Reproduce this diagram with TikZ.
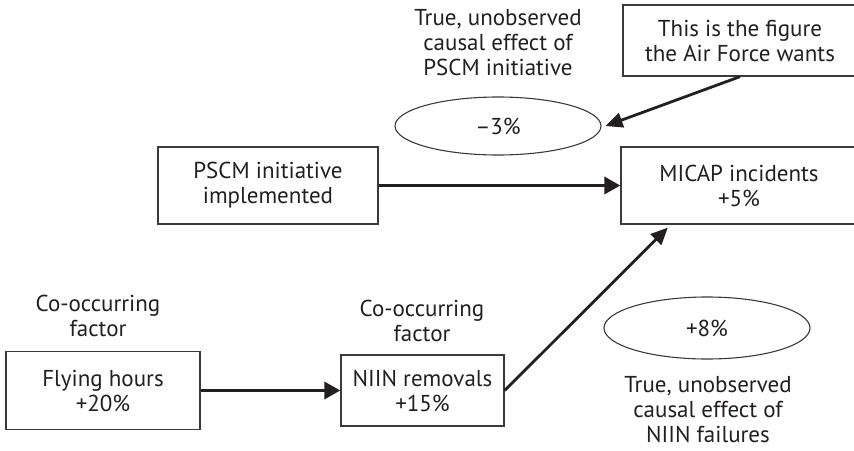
\documentclass[tikz,border=0pt]{standalone}
\usepackage{fontspec}
\setmainfont{PT Sans}
\usetikzlibrary{arrows.meta,shapes.geometric,calc}
\definecolor{ink}{HTML}{231F20}
\definecolor{boxline}{HTML}{3A3A3A}
\begin{document}
\begin{tikzpicture}[x=1pt,y=-1pt,
  txt/.style={font=\fontsize{23}{25}\selectfont, text=ink, align=center, inner sep=0pt},
  boxnode/.style={txt, draw=boxline, line width=1.3pt, rectangle},
  ovalnode/.style={txt, draw=boxline, line width=1.1pt, ellipse},
  bigarrow/.style={draw=ink, line width=3.6pt, -{Triangle[length=16pt,width=17pt]}},
  slimarrow/.style={draw=ink, line width=2.8pt, -{Triangle[length=17pt,width=15pt]}}
]
\useasboundingbox (0,0) rectangle (854,450);
% boxes
\node[boxnode, minimum width=234pt, minimum height=71pt] (fig) at (740,40.5) {This is the figure\\the Air Force wants};
\node[boxnode, minimum width=220pt, minimum height=77pt] (pscm) at (268,185.5) {PSCM initiative\\implemented};
\node[boxnode, minimum width=236pt, minimum height=77pt] (micap) at (739,185.5) {MICAP incidents\\+5\%};
\node[boxnode, minimum width=194pt, minimum height=78pt] (fly) at (103,390.5) {Flying hours\\+20\%};
\node[boxnode, minimum width=163pt, minimum height=71pt] (niin) at (422.5,390.5) {NIIN removals\\+15\%};
% ellipses
\node[ovalnode, minimum width=206pt, minimum height=58pt] (e1) at (498,126) {\textendash3\%};
\node[ovalnode, minimum width=206pt, minimum height=62pt] (e2) at (707,328) {+8\%};
% labels
\node[txt] (lab1) at (498,43) {True, unobserved\\causal effect of\\PSCM initiative};
\node[txt] (lab2) at (708,410) {True, unobserved\\causal effect of\\NIIN failures};
\node[txt] (co1) at (98,315.5) {Co-occurring\\factor};
\node[txt] (co2) at (422,320.5) {Co-occurring\\factor};
% connectors
\coordinate (mtip) at ($(micap.south west)!0.2!(micap.south east)+(0,3)$);
\draw[bigarrow] (pscm.east) -- (micap.west);
\draw[bigarrow] (fly.east) -- (niin.west);
\draw[slimarrow] (niin.east) -- (mtip);
\draw[slimarrow] (fig.south) -- ($(e1.east)+(4,0)$);
\end{tikzpicture}
\end{document}
